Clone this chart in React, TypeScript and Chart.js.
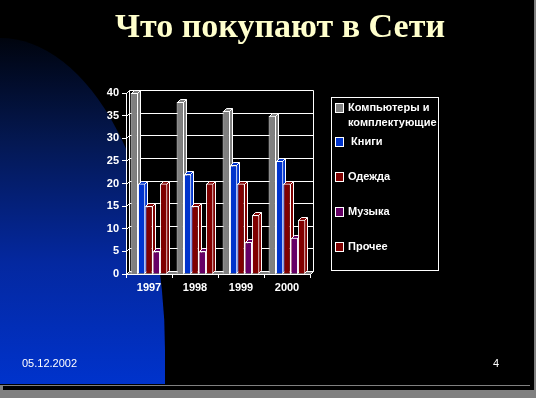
import React, { useEffect, useRef } from "react";
import { Chart, registerables } from "chart.js";

Chart.register(...registerables);

const TITLE = "Что покупают в Сети";
const YEARS = ["1997", "1998", "1999", "2000"];
const SERIES_NAMES = ["Компьютеры и комплектующие", "Книги", "Одежда", "Музыка", "Прочее"];
const LEGEND_LINES = [["Компьютеры и", "комплектующие"], [" Книги"], ["Одежда"], ["Музыка"], ["Прочее"]];
const COMPUTERS = [40, 38, 36, 35];
const BOOKS = [20, 22, 24, 25];
const CLOTHES = [15, 15, 20, 20];
const MUSIC = [5, 5, 7, 8];
const OTHER = [20, 20, 13, 12];
const SERIES_VALUES = [COMPUTERS, BOOKS, CLOTHES, MUSIC, OTHER];
const SERIES_COLORS = ["#808080", "#0033cc", "#800000", "#660066", "#800000"];
const Y_MIN = 0;
const Y_MAX = 40;
const Y_STEP = 5;
const FOOTER_DATE = "05.12.2002";
const PAGE_NUMBER = "4";

const W = 536;
const H = 398;
const DEPTH = 3;
const LABEL_FONT = "'Liberation Sans', Arial, sans-serif";

const slidePlugin = {
  id: "slide",
  beforeDraw(chart: any) {
    const ctx = chart.ctx;
    const ca = chart.chartArea;
    ctx.save();
    ctx.fillStyle = "#000000";
    ctx.fillRect(0, 0, W, H);
    // blue arc
    const g = ctx.createLinearGradient(0, 38, 0, 384);
    g.addColorStop(0, "#00040e");
    g.addColorStop(0.3, "#041852");
    g.addColorStop(0.65, "#0428a0");
    g.addColorStop(1, "#0033cc");
    ctx.fillStyle = g;
    ctx.beginPath();
    ctx.moveTo(0, 384);
    ctx.lineTo(0, 38);
    ctx.ellipse(0, 350, 165, 312, 0, -Math.PI / 2, 0, false);
    ctx.lineTo(165, 384);
    ctx.closePath();
    ctx.fill();
    // window frame bottom
    ctx.fillStyle = "#808080";
    ctx.fillRect(0, 385, 530, 1);
    ctx.fillRect(0, 386, 3, 4);
    ctx.fillRect(0, 390, W, H - 390);
    ctx.fillRect(534, 0, 2, H);
    // plot walls (black)
    ctx.fillStyle = "#000000";
    ctx.fillRect(ca.left, ca.top - DEPTH, ca.right - ca.left + DEPTH, ca.bottom - ca.top + DEPTH);
    ctx.restore();
  },
  beforeDatasetsDraw(chart: any) {
    const ctx = chart.ctx;
    const ca = chart.chartArea;
    const ys = chart.scales.y;
    const L = Math.round(ca.left) + 0.5;
    const R = Math.round(ca.right) + 0.5;
    const B = Math.round(ca.bottom) + 0.5;
    ctx.save();
    ctx.strokeStyle = "#ffffff";
    ctx.lineWidth = 1;
    for (let v = Y_MIN; v <= Y_MAX; v += Y_STEP) {
      const y = Math.round(ys.getPixelForValue(v)) + 0.5;
      ctx.beginPath();
      ctx.moveTo(L, y);
      ctx.lineTo(L + DEPTH, y - DEPTH);
      ctx.lineTo(R + DEPTH, y - DEPTH);
      ctx.stroke();
    }
    const T = Math.round(ys.getPixelForValue(Y_MAX)) + 0.5;
    ctx.beginPath();
    ctx.moveTo(L + DEPTH, T - DEPTH);
    ctx.lineTo(L + DEPTH, B - DEPTH);
    ctx.moveTo(R + DEPTH, T - DEPTH);
    ctx.lineTo(R + DEPTH, B - DEPTH);
    ctx.stroke();
    // floor
    ctx.fillStyle = "#808080";
    ctx.beginPath();
    ctx.moveTo(L, B);
    ctx.lineTo(R, B);
    ctx.lineTo(R + DEPTH, B - DEPTH);
    ctx.lineTo(L + DEPTH, B - DEPTH);
    ctx.closePath();
    ctx.fill();
    ctx.stroke();
    // bar depth faces
    const n = chart.data.labels.length;
    for (let i = 0; i < n; i++) {
      chart.data.datasets.forEach((ds: any, di: number) => {
        const el = chart.getDatasetMeta(di).data[i];
        if (!el) return;
        const { x, y, base, width } = el.getProps(["x", "y", "base", "width"], true);
        const l = Math.round(x - width / 2) + 0.5;
        const r = Math.round(x + width / 2) - 0.5;
        const t = Math.round(y) + 0.5;
        const b = Math.round(base) - 0.5;
        ctx.fillStyle = ds.backgroundColor;
        ctx.beginPath();
        ctx.moveTo(l, t);
        ctx.lineTo(l + DEPTH, t - DEPTH);
        ctx.lineTo(r + DEPTH, t - DEPTH);
        ctx.lineTo(r + DEPTH, b - DEPTH);
        ctx.lineTo(r, b);
        ctx.lineTo(r, t);
        ctx.closePath();
        ctx.fill();
        ctx.stroke();
        ctx.beginPath();
        ctx.moveTo(r, t);
        ctx.lineTo(r + DEPTH, t - DEPTH);
        ctx.stroke();
      });
    }
    ctx.restore();
  },
  afterDraw(chart: any) {
    const ctx = chart.ctx;
    ctx.save();
    ctx.fillStyle = "#ffffcc";
    ctx.font = "bold 34px 'Liberation Serif', 'Times New Roman', serif";
    ctx.textAlign = "center";
    ctx.textBaseline = "alphabetic";
    ctx.fillText(TITLE, 280, 37);
    // legend
    ctx.strokeStyle = "#ffffff";
    ctx.lineWidth = 1;
    ctx.strokeRect(331.5, 97.5, 107, 173);
    ctx.font = "bold 11px " + LABEL_FONT;
    ctx.textAlign = "left";
    ctx.textBaseline = "middle";
    chart.data.datasets.forEach((ds: any, i: number) => {
      const yc = i === 0 ? 108 : 142 + (i - 1) * 35;
      ctx.fillStyle = ds.backgroundColor;
      ctx.fillRect(335, yc - 4, 9, 9);
      ctx.strokeStyle = "#ffffff";
      ctx.strokeRect(335.5, yc - 4.5, 8, 9);
      ctx.fillStyle = "#ffffff";
      LEGEND_LINES[i].forEach((line, li) => {
        ctx.fillText(line, 348, yc + li * 15);
      });
    });
    // footer
    ctx.font = "11px " + LABEL_FONT;
    ctx.fillStyle = "#ffffff";
    ctx.fillText(FOOTER_DATE, 22, 364);
    ctx.fillText(PAGE_NUMBER, 493, 364);
    ctx.restore();
  },
};

export default function App() {
  const ref = useRef<HTMLCanvasElement | null>(null);
  useEffect(() => {
    if (!ref.current) return;
    const chart = new Chart(ref.current, {
      type: "bar",
      data: {
        labels: YEARS,
        datasets: SERIES_NAMES.map((name, i) => ({
          label: name,
          data: SERIES_VALUES[i],
          backgroundColor: SERIES_COLORS[i],
          borderColor: "#ffffff",
          borderWidth: 1,
          categoryPercentage: 0.8,
          barPercentage: 1.0,
        })),
      },
      options: {
        responsive: false,
        animation: false,
        devicePixelRatio: 1,
        layout: { padding: { left: 100, right: W - 310, top: 93, bottom: H - 274 - 24 } },
        plugins: { legend: { display: false }, tooltip: { enabled: false }, title: { display: false } },
        scales: {
          x: {
            afterFit: (s: any) => { s.height = 24; },
            border: { display: true, color: "#ffffff", width: 1 },
            grid: { display: true, drawOnChartArea: false, tickLength: 4, color: "#ffffff", offset: true },
            ticks: { color: "#ffffff", font: { family: LABEL_FONT, size: 11, weight: "bold" }, padding: 3 },
          },
          y: {
            min: Y_MIN,
            max: Y_MAX,
            afterFit: (s: any) => { s.width = 26; },
            border: { display: true, color: "#ffffff", width: 1 },
            grid: { display: true, drawOnChartArea: false, tickLength: 4, color: "#ffffff" },
            ticks: { stepSize: Y_STEP, color: "#ffffff", font: { family: LABEL_FONT, size: 11, weight: "bold" }, padding: 3 },
          },
        },
      },
      plugins: [slidePlugin],
    } as any);
    return () => chart.destroy();
  }, []);
  return (
    <div style={{ position: "fixed", left: 0, top: 0, width: W, height: H, background: "#000" }}>
      <canvas ref={ref} width={W} height={H} style={{ display: "block", width: W, height: H }} />
    </div>
  );
}
